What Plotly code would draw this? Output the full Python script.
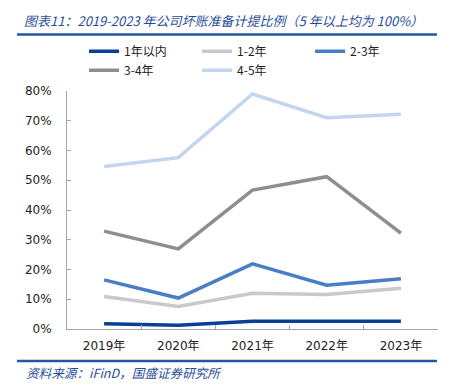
import plotly.graph_objects as go

years = ["2019年", "2020年", "2021年", "2022年", "2023年"]
series_names = ["1年以内", "1-2年", "2-3年", "3-4年", "4-5年"]
within_1 = [1.8, 1.3, 2.6, 2.6, 2.6]
y1_2 = [10.9, 7.6, 12.0, 11.6, 13.7]
y2_3 = [16.5, 10.4, 21.9, 14.7, 16.9]
y3_4 = [32.9, 26.9, 46.7, 51.2, 32.2]
y4_5 = [54.6, 57.6, 79.0, 71.0, 72.2]
colors = ["#0a3f96", "#c9c9c9", "#4a7ec4", "#8e8e8e", "#c4d6ee"]

values = [within_1, y1_2, y2_3, y3_4, y4_5]
text_font = "Tahoma, 'DejaVu Sans', 'Noto Sans CJK SC', sans-serif"

fig = go.Figure()
for name, vals, col in zip(series_names, values, colors):
    fig.add_trace(go.Scatter(x=years, y=vals, name=name, mode="lines",
                             line=dict(color=col, width=3.5)))

# page body has an 8px margin, so the figure is sized to fit the window
fig.update_layout(
    width=444, height=381,
    margin=dict(l=59, r=14, t=83, b=60, autoexpand=False),
    paper_bgcolor="white", plot_bgcolor="white",
    font=dict(family=text_font, size=12, color="#222"),
    showlegend=True,
    legend=dict(orientation="h", x=0.046, xanchor="left", y=1.228, yanchor="top",
                entrywidth=68, entrywidthmode="pixels",
                font=dict(size=12, family="'Noto Sans CJK SC', sans-serif"),
                tracegroupgap=0, itemwidth=30),
    xaxis=dict(type="category", showline=True, linecolor="#a6a6a6", linewidth=1,
               ticks="inside", tickson="boundaries", ticklen=4, tickcolor="#a6a6a6",
               showgrid=False, tickfont=dict(size=12), range=[-0.5, 4.5],
               ticklabelstandoff=6),
    yaxis=dict(range=[0, 80], dtick=10, ticksuffix="%", showline=True,
               linecolor="#a6a6a6", linewidth=1, ticks="inside", ticklen=4,
               tickcolor="#a6a6a6", showgrid=False, zeroline=False,
               tickfont=dict(size=12), ticklabelstandoff=12),
)

# title and source text
fig.add_annotation(text="图表11：2019-2023 年公司坏账准备计提比例（5 年以上均为 100%）",
                   xref="paper", yref="paper", x=-0.1215, y=1.0, yanchor="bottom",
                   xanchor="left", yshift=59, showarrow=False,
                   font=dict(size=13, color="#1f4e9a", family="'Noto Sans CJK SC', sans-serif",
                             style="italic"))
fig.add_annotation(text="资料来源：iFinD，国盛证券研究所",
                   xref="paper", yref="paper", x=-0.116, y=0, yanchor="top",
                   xanchor="left", yshift=-32, showarrow=False,
                   font=dict(size=12.6, color="#1f4e9a", family="'Noto Sans CJK SC', sans-serif",
                             style="italic"))

# decorative rules
for yy in (34.5, 361):
    fig.add_shape(type="line", xref="paper", yref="paper",
                  x0=(17 - 67) / 371, x1=(437 - 67) / 371,
                  y0=(329 - yy) / 238, y1=(329 - yy) / 238,
                  line=dict(color="#2456a4", width=2.5))
    fig.add_shape(type="line", xref="paper", yref="paper",
                  x0=(447 - 67) / 371, x1=(452 - 67) / 371,
                  y0=(329 - yy) / 238, y1=(329 - yy) / 238,
                  line=dict(color="#2456a4", width=2.5))

fig.write_html("out.html")
